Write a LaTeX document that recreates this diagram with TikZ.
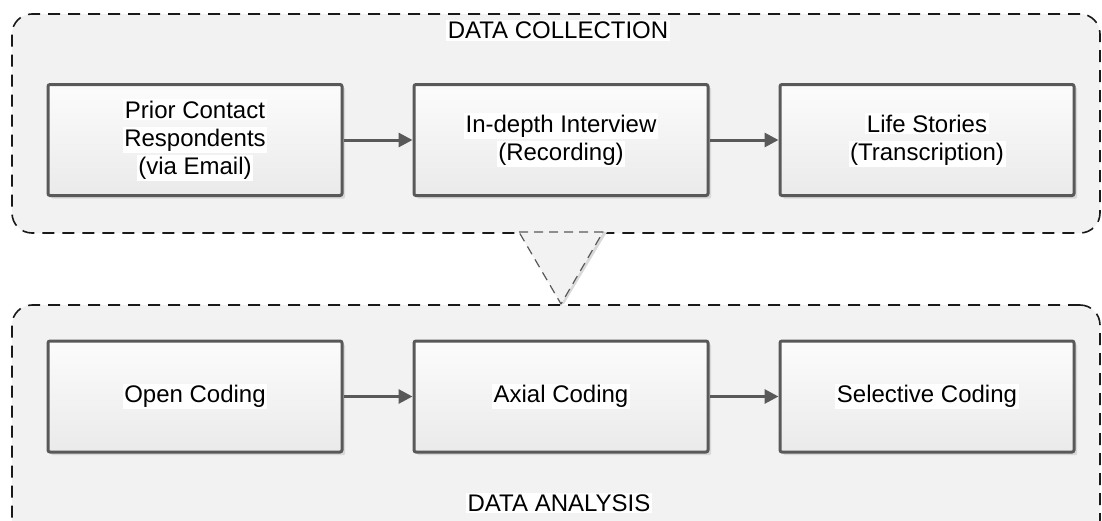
\documentclass[tikz,border=0pt]{standalone}
\usepackage{fontspec}
\setmainfont{Liberation Sans}
\usetikzlibrary{arrows.meta,shadows}

\definecolor{edgegray}{HTML}{595959}
\definecolor{groupfill}{HTML}{F2F2F2}
\definecolor{shadegray}{HTML}{D9D9D9}
\definecolor{boxtop}{HTML}{FCFCFC}
\definecolor{boxbottom}{HTML}{EAEAEA}

% white band behind each line of text
\newcommand{\hlline}[1]{{\setlength{\fboxsep}{0.8pt}\colorbox{white}{#1}}}

\tikzset{
  group/.style={draw=black!90, fill=groupfill, line width=0.8pt,
    dash pattern=on 6pt off 4pt, rounded corners=10pt,
    inner sep=0pt, outer sep=0pt},
  stepbox/.style={draw=edgegray, line width=1.5pt, rounded corners=1pt,
    top color=boxtop, bottom color=boxbottom,
    minimum width=147pt, minimum height=55.5pt, align=center,
    drop shadow={shadow xshift=1.6pt, shadow yshift=-1.6pt,
      fill=shadegray, opacity=1},
    font=\fontsize{12}{13.9}\selectfont},
  heading/.style={font=\fontsize{12}{13.9}\selectfont, inner sep=0pt},
  flow/.style={draw=edgegray, line width=1.5pt,
    -{Triangle[length=7pt,width=7pt]}},
  funnel/.style={draw=edgegray, fill=groupfill, line width=0.6pt,
    dash pattern=on 4.5pt off 3pt, line join=round},
}

\begin{document}
\begin{tikzpicture}[x=0.5pt,y=-0.5pt]
  \useasboundingbox (0,0) rectangle (1102,520);
  \clip (0,0) rectangle (1102,520);

  % the two phase containers
  \node[group, minimum width=544pt, minimum height=109.5pt]
    (collect) at (556,123.5) {};
  \node[group, minimum width=544pt, minimum height=117.5pt]
    (analyse) at (556,422.5) {};

  % downward transition between the phases
  \coordinate (fl) at (519,232);
  \coordinate (fr) at (603,232);
  \coordinate (fb) at (561,304);
  \fill[shadegray] ([xshift=2pt]fr) -- ([xshift=1.5pt]fb) -- (fb) -- (fr) -- cycle;
  \draw[funnel] (fl) -- (fr) -- (fb) -- cycle;

  % phase titles
  \node[heading] (t1) at (558,30.5) {\hlline{DATA COLLECTION}};
  \node[heading] (t2) at (559,503) {\hlline{DATA ANALYSIS}};

  % collection steps
  \node[stepbox] (c1) at (195,140)
    {\hlline{Prior Contact}\\\hlline{Respondents}\\\hlline{(via Email)}};
  \node[stepbox] (c2) at (561,140)
    {\hlline{In-depth Interview}\\\hlline{(Recording)}};
  \node[stepbox] (c3) at (927,140)
    {\hlline{Life Stories}\\\hlline{(Transcription)}};

  % analysis steps
  \node[stepbox] (a1) at (195,396.5) {\hlline{Open Coding}};
  \node[stepbox] (a2) at (561,396.5) {\hlline{Axial Coding}};
  \node[stepbox] (a3) at (927,396.5) {\hlline{Selective Coding}};

  \draw[flow] (c1) -- (c2);
  \draw[flow] (c2) -- (c3);
  \draw[flow] (a1) -- (a2);
  \draw[flow] (a2) -- (a3);
\end{tikzpicture}
\end{document}
